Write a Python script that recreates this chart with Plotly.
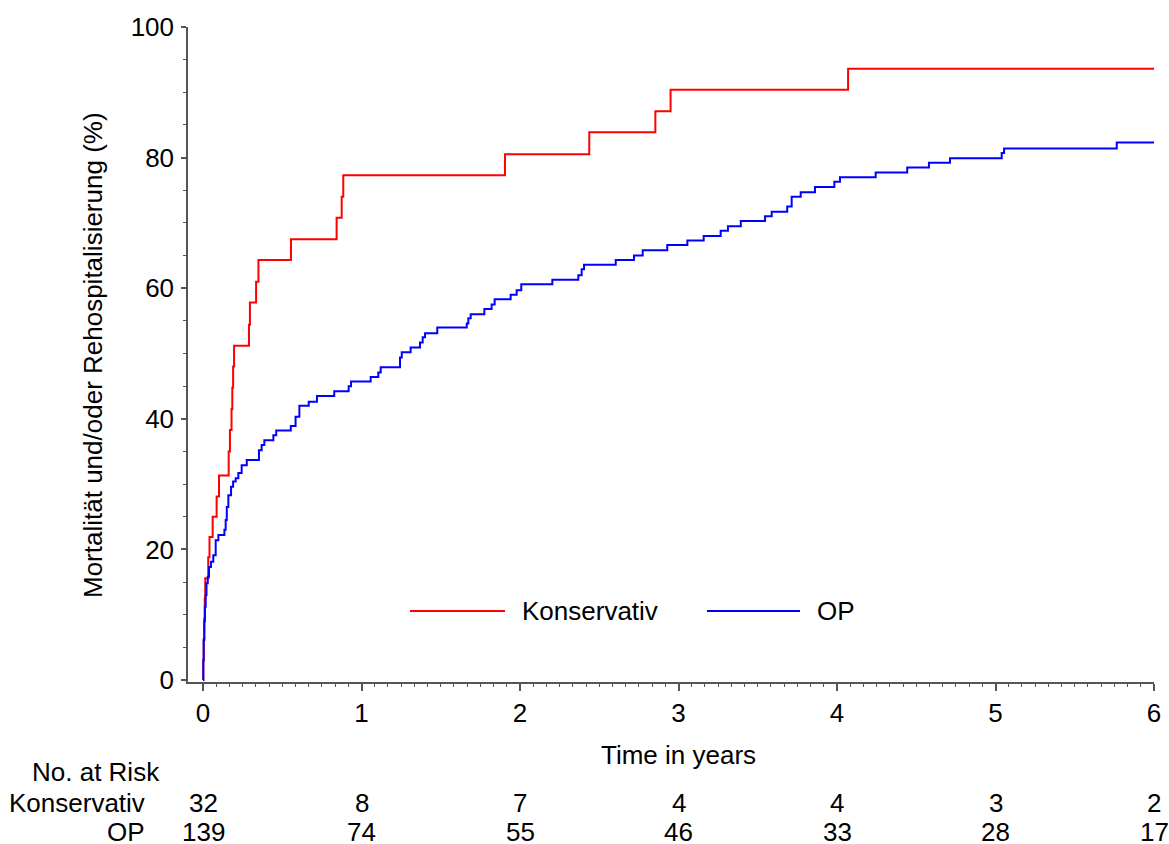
import plotly.graph_objects as go

# ---------------- data ----------------
konservativ_t = [0.000, 0.002, 0.005, 0.008, 0.011, 0.014, 0.033, 0.041, 0.061, 0.086,
                 0.101, 0.162, 0.170, 0.180, 0.185, 0.190, 0.196, 0.290, 0.296, 0.335,
                 0.350, 0.555, 0.843, 0.875, 0.885, 1.905, 2.437, 2.854, 2.950, 4.070, 6.000]
konservativ_y = [0.0, 3.1, 6.3, 9.4, 12.5, 15.6, 18.8, 21.9, 25.0, 28.1,
                 31.3, 35.0, 38.3, 41.5, 44.8, 48.0, 51.2, 54.4, 57.8, 61.0,
                 64.3, 67.5, 70.8, 74.0, 77.3, 80.5, 83.9, 87.1, 90.4, 93.6, 93.6]

op_t = [0.000, 0.002, 0.004, 0.008, 0.012, 0.017, 0.022, 0.030, 0.038, 0.050,
        0.065, 0.080, 0.097, 0.135, 0.143, 0.150, 0.160, 0.177, 0.190, 0.206,
        0.223, 0.244, 0.276, 0.353, 0.370, 0.387, 0.444, 0.462, 0.554, 0.584,
        0.608, 0.667, 0.719, 0.828, 0.919, 0.934, 1.058, 1.106, 1.121, 1.243,
        1.254, 1.310, 1.369, 1.386, 1.401, 1.478, 1.664, 1.674, 1.689, 1.775,
        1.821, 1.840, 1.941, 1.979, 2.008, 2.204, 2.368, 2.389, 2.404, 2.604,
        2.719, 2.774, 2.929, 3.056, 3.159, 3.266, 3.312, 3.393, 3.546, 3.588,
        3.686, 3.714, 3.771, 3.861, 3.983, 4.019, 4.244, 4.443, 4.580, 4.713,
        5.039, 5.054, 5.765, 6.000]
op_y = [0.0, 3.0, 6.1, 9.0, 11.2, 13.0, 14.8, 15.8, 17.3, 18.1,
        19.1, 21.4, 22.2, 23.0, 24.5, 26.5, 28.3, 29.6, 30.4, 30.9,
        31.7, 32.9, 33.7, 35.2, 36.0, 36.7, 37.5, 38.2, 38.9, 40.3,
        42.0, 42.6, 43.5, 44.2, 45.0, 45.7, 46.4, 47.1, 47.9, 49.4,
        50.2, 50.9, 51.7, 52.5, 53.1, 54.0, 54.6, 55.4, 56.0, 56.8,
        57.5, 58.3, 59.0, 59.7, 60.6, 61.3, 62.0, 62.9, 63.6, 64.3,
        65.0, 65.8, 66.6, 67.3, 68.0, 68.8, 69.5, 70.3, 71.0, 71.7,
        72.5, 74.0, 74.7, 75.5, 76.3, 77.0, 77.7, 78.5, 79.2, 79.9,
        80.7, 81.4, 82.3, 82.3]

tick_years = [0, 1, 2, 3, 4, 5, 6]
y_ticks = [0, 20, 40, 60, 80, 100]
at_risk_konservativ = [32, 8, 7, 4, 4, 3, 2]
at_risk_op = [139, 74, 55, 46, 33, 28, 17]
group_names = ["Konservativ", "OP"]
group_colors = ["#FF0000", "#0000FF"]

# ---------------- layout helpers ----------------
W, H = 1169, 844
L, R, T, B = 188, 1154, 27, 682          # plot area in pixels
FONT = "Arial, 'Liberation Sans', Helvetica, sans-serif"
FS = 26
AX = "#555555"


def px(xp):
    return (xp - L) / (R - L)


def py(yp):
    return (B - yp) / (B - T)


fig = go.Figure()
for t, y, name, col in [(konservativ_t, konservativ_y, group_names[0], group_colors[0]),
                        (op_t, op_y, group_names[1], group_colors[1])]:
    fig.add_trace(go.Scatter(x=t, y=y, mode="lines", name=name,
                             line=dict(shape="hv", color=col, width=2),
                             showlegend=False))

minor_x = [i / 12 for i in range(1, 72) if i % 12 != 0]

fig.update_layout(
    width=W, height=H, autosize=False,
    template="none",
    paper_bgcolor="white", plot_bgcolor="white",
    margin=dict(l=L, r=W - R, t=T, b=H - B, pad=0),
    font=dict(family=FONT, size=FS, color="black"),
    showlegend=False,
    xaxis=dict(range=[-15 / 158.5, 6.0], tickvals=tick_years, ticktext=[str(v) for v in tick_years],
               ticks="outside", ticklen=7, tickwidth=1.5, tickcolor=AX,
               showline=True, linecolor=AX, linewidth=1.5, showgrid=False, zeroline=False,
               minor=dict(tickvals=minor_x, ticks="outside", ticklen=3.5, tickwidth=1, tickcolor=AX,
                          showgrid=False),
               tickfont=dict(size=FS), automargin=False),
    yaxis=dict(range=[-2 / 6.53, 100], tickvals=y_ticks, ticktext=[str(v) for v in y_ticks],
               ticks="outside", ticklen=5, tickwidth=1.5, tickcolor=AX, ticklabelstandoff=2,
               showline=True, linecolor=AX, linewidth=1.5, showgrid=False, zeroline=False,
               minor=dict(dtick=5, tick0=0, ticks="outside", ticklen=3, tickwidth=1, tickcolor=AX,
                          showgrid=False),
               tickfont=dict(size=FS), automargin=False),
)

ann = []
# axis titles
ann.append(dict(text="Time in years", xref="paper", yref="paper", x=px(678), y=py(755),
                xanchor="center", yanchor="middle", showarrow=False, font=dict(size=FS)))
ann.append(dict(text="Mortalität und/oder Rehospitalisierung (%)", xref="paper", yref="paper",
                x=px(93), y=py(355), textangle=-90, xanchor="center", yanchor="middle",
                showarrow=False, font=dict(size=FS)))
# number at risk table
ann.append(dict(text="No. at Risk", xref="paper", yref="paper", x=px(162), y=py(772),
                xanchor="right", yanchor="middle", showarrow=False, font=dict(size=FS)))
for name, row, yrow in [(group_names[0], at_risk_konservativ, 803), (group_names[1], at_risk_op, 832)]:
    ann.append(dict(text=name, xref="paper", yref="paper", x=px(147), y=py(yrow),
                    xanchor="right", yanchor="middle", showarrow=False, font=dict(size=FS)))
    for yr, n in zip(tick_years, row):
        ann.append(dict(text=str(n), xref="x", yref="paper", x=yr, y=py(yrow),
                        xanchor="center", yanchor="middle", showarrow=False, font=dict(size=FS)))

# manual legend
shapes = []
legend_items = [(group_names[0], group_colors[0], 410, 505, 520),
                (group_names[1], group_colors[1], 707, 800, 815)]
for name, col, x0, x1, xt in legend_items:
    shapes.append(dict(type="line", xref="paper", yref="paper", x0=px(x0), x1=px(x1),
                       y0=py(611), y1=py(611), line=dict(color=col, width=2)))
    ann.append(dict(text=name, xref="paper", yref="paper", x=px(xt), y=py(611),
                    xanchor="left", yanchor="middle", showarrow=False, font=dict(size=FS)))

fig.update_layout(annotations=ann, shapes=shapes)
fig.write_html("out.html", config={"displayModeBar": False},
               post_script="document.body.style.margin='0px';document.body.style.overflow='hidden';")
